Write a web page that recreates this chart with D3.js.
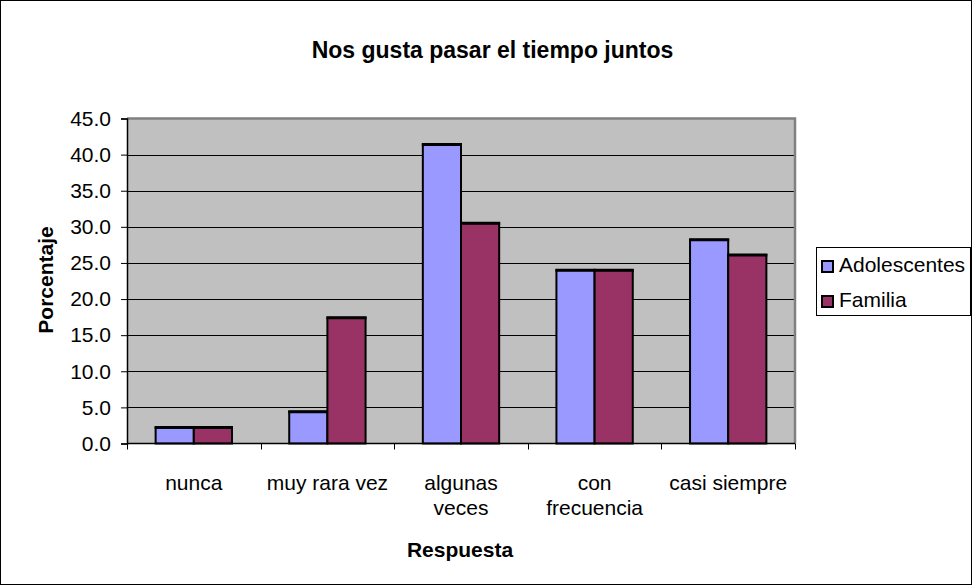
<!DOCTYPE html>
<html>
<head>
<meta charset="utf-8">
<script src="https://cdn.jsdelivr.net/npm/d3@7"></script>
<style>
  html, body { margin: 0; padding: 0; background: #fff; }
  svg { display: block; font-family: Arial, "Liberation Sans", sans-serif; }
</style>
</head>
<body>
<svg id="chart" width="973" height="586"></svg>
<script>
// Survey answers and their percentages per group
const categories = [["nunca"], ["muy rara vez"], ["algunas", "veces"], ["con", "frecuencia"], ["casi siempre"]];
const seriesNames = ["Adolescentes", "Familia"];
const adolescentes = [2.2, 4.4, 41.4, 24.0, 28.2];
const familia = [2.2, 17.4, 30.5, 24.0, 26.1];
const yTicks = [0, 5, 10, 15, 20, 25, 30, 35, 40, 45];
const colors = ["#9999FF", "#993366"];

const svg = d3.select("#chart");
const W = 973, H = 586;
const plot = { left: 127, right: 795, top: 118.5, bottom: 443.5 };
const FONT = 21;

// Outer chart frame
svg.append("rect").attr("x", 0.5).attr("y", 0.5).attr("width", W - 2).attr("height", H - 2)
  .attr("fill", "#fff").attr("stroke", "#000").attr("stroke-width", 1);

const x0 = d3.scaleBand().domain(d3.range(categories.length))
  .range([plot.left, plot.right]).paddingInner(0).paddingOuter(0);
const x1 = d3.scaleBand().domain(d3.range(seriesNames.length))
  .range([0, x0.bandwidth()]).paddingInner(0).paddingOuter(0.75);
const y = d3.scaleLinear().domain([0, 45]).range([plot.bottom, plot.top]);

// Plot background
svg.append("rect").attr("x", plot.left).attr("y", plot.top)
  .attr("width", plot.right - plot.left).attr("height", plot.bottom - plot.top)
  .attr("fill", "#C0C0C0");

// Gridlines
svg.append("g").selectAll("line").data(yTicks.filter(t => t > 0 && t < 45)).join("line")
  .attr("x1", plot.left).attr("x2", plot.right)
  .attr("y1", d => Math.round(y(d)) + 0.5).attr("y2", d => Math.round(y(d)) + 0.5)
  .attr("stroke", "#000").attr("stroke-width", 1);

// Plot border (top/right grey)
svg.append("path")
  .attr("d", `M${plot.left},${plot.top} H${plot.right} V${plot.bottom}`)
  .attr("fill", "none").attr("stroke", "#808080").attr("stroke-width", 2.5);

// Bars
const series = [adolescentes, familia];
const g = svg.append("g");
categories.forEach((c, i) => {
  series.forEach((vals, s) => {
    const bx = x0(i) + x1(s);
    const bw = x1.bandwidth();
    const top = y(vals[i]);
    g.append("rect").attr("x", bx).attr("y", top)
      .attr("width", bw).attr("height", plot.bottom - top)
      .attr("fill", colors[s]).attr("stroke", "#000").attr("stroke-width", 2);
    g.append("line").attr("x1", bx - 1).attr("x2", bx + bw + 1)
      .attr("y1", top).attr("y2", top).attr("stroke", "#000").attr("stroke-width", 3);
  });
});

// Y axis
const yAxis = d3.axisLeft(y).tickValues(yTicks).tickFormat(d3.format(".1f"))
  .tickSize(6).tickPadding(10);
const gy = svg.append("g").attr("transform", `translate(${plot.left},0)`).call(yAxis);
gy.select(".domain").attr("stroke", "#000").attr("stroke-width", 1.5);
gy.selectAll(".tick line").attr("stroke", "#000");
gy.selectAll("text").attr("font-size", FONT).attr("fill", "#000")
  .attr("font-family", "Arial, 'Liberation Sans', sans-serif");

// X axis line and category boundary ticks
svg.append("line").attr("x1", plot.left).attr("x2", plot.right)
  .attr("y1", plot.bottom).attr("y2", plot.bottom).attr("stroke", "#000").attr("stroke-width", 1.5);
svg.append("g").selectAll("line").data(d3.range(categories.length + 1)).join("line")
  .attr("x1", d => Math.round(plot.left + d * x0.bandwidth()) + 0.5)
  .attr("x2", d => Math.round(plot.left + d * x0.bandwidth()) + 0.5)
  .attr("y1", plot.bottom).attr("y2", plot.bottom + 6)
  .attr("stroke", "#000");

// Category labels
categories.forEach((c, i) => {
  const cx = x0(i) + x0.bandwidth() / 2;
  const t = svg.append("text").attr("x", cx).attr("y", 490)
    .attr("text-anchor", "middle").attr("font-size", FONT).attr("fill", "#000");
  c.forEach((line, k) => t.append("tspan").attr("x", cx)
    .attr("dy", k === 0 ? 0 : 25).text(line));
});

// Titles
svg.append("text").attr("x", 492.5).attr("y", 58).attr("text-anchor", "middle")
  .attr("font-size", 23).attr("font-weight", "bold").text("Nos gusta pasar el tiempo juntos");
svg.append("text").attr("x", 460).attr("y", 557).attr("text-anchor", "middle")
  .attr("font-size", FONT).attr("font-weight", "bold").text("Respuesta");
svg.append("text").attr("transform", `translate(53,280) rotate(-90)`)
  .attr("text-anchor", "middle").attr("font-size", FONT).attr("font-weight", "bold").text("Porcentaje");

// Legend
const lg = svg.append("g");
lg.append("rect").attr("x", 816.5).attr("y", 247.5).attr("width", 154).attr("height", 68)
  .attr("fill", "#fff").attr("stroke", "#000");
seriesNames.forEach((n, i) => {
  const base = 272 + i * 35;
  lg.append("rect").attr("x", 822).attr("y", base - 11).attr("width", 11).attr("height", 11)
    .attr("fill", colors[i]).attr("stroke", "#000").attr("stroke-width", 2);
  lg.append("text").attr("x", 839).attr("y", base).attr("font-size", FONT).text(n);
});
</script>
</body>
</html>
